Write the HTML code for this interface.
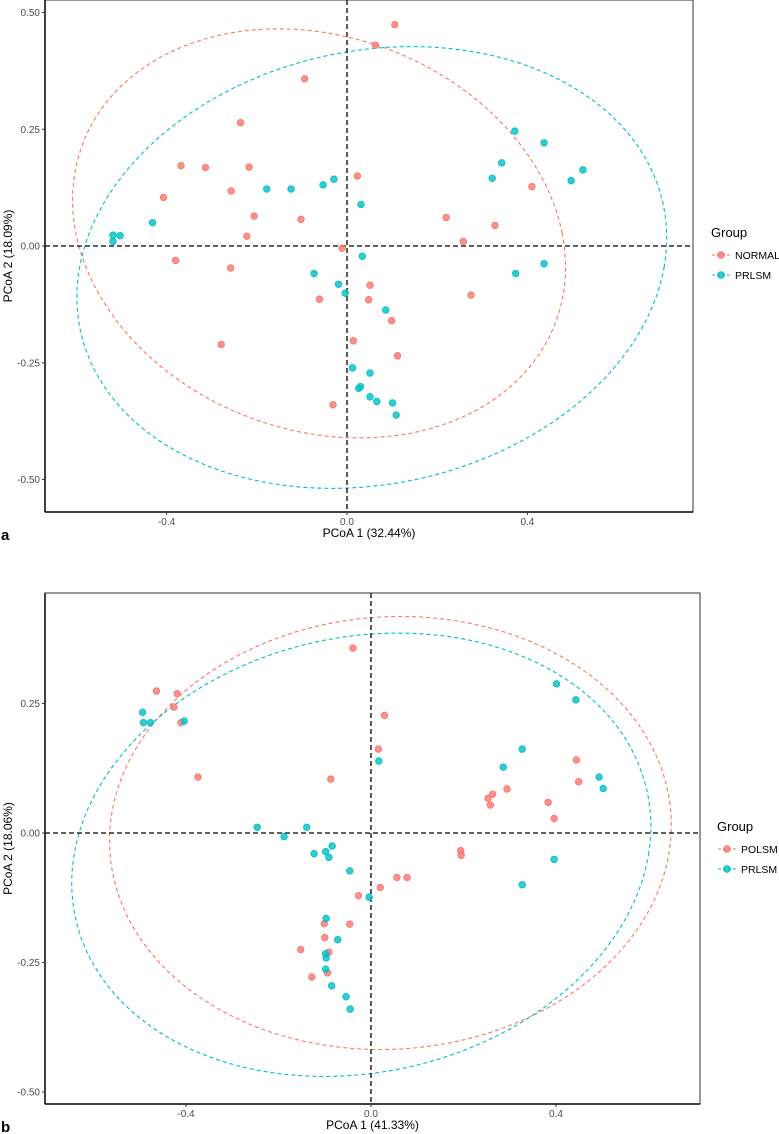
<!DOCTYPE html>
<html><head><meta charset="utf-8">
<style>
html,body{margin:0;padding:0;background:#fff;}
svg{display:block;font-family:"Liberation Sans",sans-serif;}
</style></head>
<body>
<svg id="fig" width="779" height="1134" viewBox="0 0 779 1134" xmlns="http://www.w3.org/2000/svg"></svg>
<script>
// Panel a data
const aNormalX = [0.106,0.063,-0.094,-0.236,-0.368,-0.314,-0.217,-0.257,-0.407,-0.206,-0.102,-0.222,0.023,0.220,0.328,0.258,0.410,-0.380,-0.258,-0.011,0.051,-0.061,0.048,0.275,0.099,0.014,0.112,-0.279,-0.031];
const aNormalY = [0.474,0.430,0.358,0.264,0.172,0.168,0.169,0.118,0.104,0.064,0.057,0.021,0.150,0.061,0.044,0.010,0.127,-0.031,-0.047,-0.005,-0.084,-0.114,-0.115,-0.105,-0.160,-0.203,-0.235,-0.211,-0.340];
const aPrlsmX = [0.372,0.437,0.343,0.322,0.523,0.497,-0.178,-0.124,-0.053,-0.029,0.031,-0.431,-0.519,-0.503,-0.519,0.034,0.374,0.437,-0.073,-0.019,-0.004,0.086,0.012,0.051,0.030,0.026,0.051,0.066,0.101,0.109];
const aPrlsmY = [0.246,0.221,0.178,0.145,0.163,0.140,0.122,0.122,0.131,0.143,0.089,0.050,0.023,0.022,0.010,-0.022,-0.059,-0.038,-0.059,-0.082,-0.101,-0.137,-0.261,-0.272,-0.301,-0.305,-0.323,-0.333,-0.336,-0.362];
// ellipse params: cx, cy, rx, ry, shear
const aNormalEllipse = [-0.062,0.027,0.539,0.438,-0.09];
const aPrlsmEllipse = [0.055,-0.046,0.648,0.473,0.088];
const aXTicks = [-0.4,0.0,0.4];
const aXTickLabels = ["-0.4","0.0","0.4"];
const aYTicks = [0.5,0.25,0,-0.25,-0.5];
const aYTickLabels = ["0.50","0.25","0.00","-0.25","-0.50"];

// Panel b data
const bPolsmX = [-0.039,-0.464,-0.419,-0.426,-0.411,-0.374,-0.087,0.029,0.016,0.444,0.449,0.294,0.263,0.253,0.258,0.383,0.396,0.194,0.195,0.056,0.078,0.020,-0.027,-0.046,-0.101,-0.100,-0.152,-0.091,-0.094,-0.128];
const bPolsmY = [0.357,0.274,0.269,0.243,0.213,0.108,0.104,0.227,0.162,0.141,0.099,0.085,0.075,0.067,0.054,0.059,0.028,-0.034,-0.043,-0.086,-0.086,-0.105,-0.121,-0.176,-0.175,-0.202,-0.225,-0.230,-0.270,-0.278];
const bPrlsmX = [-0.494,-0.492,-0.477,-0.404,0.401,0.443,0.327,0.286,0.017,0.493,0.502,0.396,0.327,-0.246,-0.139,-0.188,-0.084,-0.123,-0.098,-0.091,-0.046,-0.004,-0.097,-0.072,-0.098,-0.097,-0.098,-0.085,-0.054,-0.045];
const bPrlsmY = [0.233,0.213,0.213,0.216,0.288,0.257,0.162,0.127,0.139,0.108,0.086,-0.051,-0.100,0.011,0.011,-0.007,-0.025,-0.040,-0.036,-0.047,-0.073,-0.124,-0.165,-0.206,-0.233,-0.241,-0.263,-0.295,-0.316,-0.340];
const bPolsmEllipse = [0.042,0.0,0.607,0.418,0.022];
const bPrlsmEllipse = [-0.021,-0.042,0.621,0.428,0.080];
const bXTicks = [-0.4,0.0,0.4];
const bXTickLabels = ["-0.4","0.0","0.4"];
const bYTicks = [0.25,0,-0.25,-0.5];
const bYTickLabels = ["0.25","0.00","-0.25","-0.50"];

const NS="http://www.w3.org/2000/svg";
const svg=document.getElementById('fig');
function mk(tag,attrs,parent){const e=document.createElementNS(NS,tag);for(const k in attrs)e.setAttribute(k,attrs[k]);(parent||svg).appendChild(e);return e;}
const RED="#F8766D", TEAL="#00BFC4";

function panel(cfg){
  const g=mk('g',{});
  
  
  const sx=v=>cfg.x0+v*cfg.kx, sy=v=>cfg.y0-v*cfg.ky;
  cfg.ellipses.forEach((E,i)=>{
    let d='';
    for(let t=0;t<=360;t+=2){const r=t*Math.PI/180;
      const x=E[0]+E[2]*Math.cos(r)+E[4]*Math.sin(r), y=E[1]+E[3]*Math.sin(r);
      d+=(t?'L':'M')+sx(x).toFixed(1)+','+sy(y).toFixed(1);}
    const p=mk('path',{d:d+'Z',fill:'none',stroke:cfg.colors[i],'stroke-width':1.1,'stroke-dasharray':'4,3'},g);
    
    
  });
  const hz=mk('line',{x1:cfg.left,x2:cfg.right,y1:sy(0),y2:sy(0),stroke:'#000','stroke-width':1.3,'stroke-dasharray':'5,3'},g);
  
  
  const vz=mk('line',{x1:sx(0),x2:sx(0),y1:cfg.top,y2:cfg.bottom,stroke:'#000','stroke-width':1.3,'stroke-dasharray':'5,3'},g);
  
  
  cfg.series.forEach((s,i)=>{
    s[0].forEach((xv,j)=>{
      const c=mk('circle',{cx:sx(xv),cy:sy(s[1][j]),r:3.3,fill:cfg.colors[i],'fill-opacity':0.8,stroke:cfg.colors[i],'stroke-width':0.8},g);
      
      
    });
  });
  const fr=mk('rect',{x:cfg.left,y:cfg.top,width:cfg.right-cfg.left,height:cfg.bottom-cfg.top,fill:'none',stroke:'#333','stroke-width':1},g);
  
  
  mk('line',{x1:cfg.left,x2:cfg.right,y1:cfg.bottom,y2:cfg.bottom,stroke:'#000','stroke-width':1.5},g);
  mk('line',{x1:cfg.left,x2:cfg.left,y1:cfg.top,y2:cfg.bottom,stroke:'#000','stroke-width':1.5},g);
  cfg.xt.forEach((v,i)=>{
    mk('line',{x1:sx(v),x2:sx(v),y1:cfg.bottom,y2:cfg.bottom+3,stroke:'#333'},g);
    const t=mk('text',{x:sx(v),y:cfg.bottom+13,'font-size':10,fill:'#4d4d4d','text-anchor':'middle'},g);
    t.textContent=cfg.xtl[i];
    
    
  });
  cfg.yt.forEach((v,i)=>{
    mk('line',{x1:cfg.left-3,x2:cfg.left,y1:sy(v),y2:sy(v),stroke:'#333'},g);
    const t=mk('text',{x:cfg.left-5,y:sy(v)+3.5,'font-size':10,fill:'#4d4d4d','text-anchor':'end'},g);
    t.textContent=cfg.ytl[i];
    
    
  });
  const xtit=mk('text',{x:(cfg.left+cfg.right)/2,y:cfg.bottom+25,'font-size':12,fill:'#000','text-anchor':'middle'},g);
  xtit.textContent=cfg.xtitle;
  
  
  const yc=(cfg.top+cfg.bottom)/2;
  const ytit=mk('text',{x:12,y:yc,'font-size':12,fill:'#000','text-anchor':'middle',transform:`rotate(-90 12 ${yc})`},g);
  ytit.textContent=cfg.ytitle;
  
  
  const lab=mk('text',{x:1,y:cfg.bottom+28,'font-size':15,'font-weight':'bold',fill:'#000'},g);
  lab.textContent=cfg.label;
  
  
  const lt=mk('text',{x:cfg.legX,y:cfg.legY,'font-size':13,fill:'#000'},g);
  lt.textContent='Group';
  
  
  cfg.groups.forEach((gname,i)=>{
    const yy=cfg.legY+18+i*20;
    const le=mk('g',{},g);
    
    
    mk('line',{x1:cfg.legX+1,x2:cfg.legX+19,y1:yy,y2:yy,stroke:cfg.colors[i],'stroke-width':1.1,'stroke-dasharray':'3,2'},le);
    mk('circle',{cx:cfg.legX+10,cy:yy,r:3.3,fill:cfg.colors[i],'fill-opacity':0.8,stroke:cfg.colors[i]},le);
    const tx=mk('text',{x:cfg.legX+24,y:yy+4,'font-size':10.5,fill:'#000'},le);
    tx.textContent=gname;
  });
}

panel({name:'panel-a',label:'a',x0:347,kx:451,y0:246,ky:467,left:45,right:693,top:0,bottom:512,
  series:[[aNormalX,aNormalY],[aPrlsmX,aPrlsmY]],ellipses:[aNormalEllipse,aPrlsmEllipse],
  colors:[RED,TEAL],groups:['NORMAL','PRLSM'],xt:aXTicks,xtl:aXTickLabels,yt:aYTicks,ytl:aYTickLabels,
  xtitle:'PCoA 1 (32.44%)',ytitle:'PCoA 2 (18.09%)',legX:711,legY:237});
panel({name:'panel-b',label:'b',x0:371,kx:462.5,y0:833,ky:518,left:45,right:700,top:593,bottom:1104,
  series:[[bPolsmX,bPolsmY],[bPrlsmX,bPrlsmY]],ellipses:[bPolsmEllipse,bPrlsmEllipse],
  colors:[RED,TEAL],groups:['POLSM','PRLSM'],xt:bXTicks,xtl:bXTickLabels,yt:bYTicks,ytl:bYTickLabels,
  xtitle:'PCoA 1 (41.33%)',ytitle:'PCoA 2 (18.06%)',legX:717,legY:831});
</script>
</body></html>
